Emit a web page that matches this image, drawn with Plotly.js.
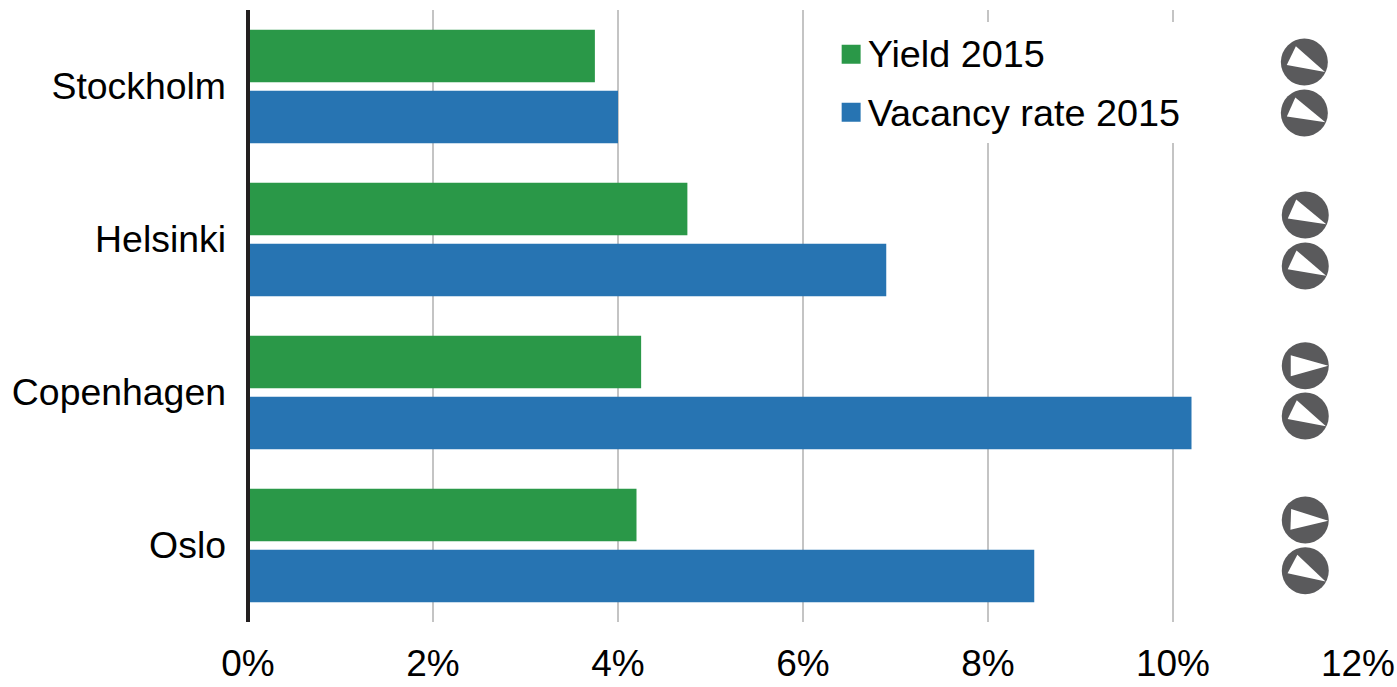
<!DOCTYPE html>
<html>
<head>
<meta charset="utf-8">
<script src="https://cdn.plot.ly/plotly-3.0.1.min.js"></script>
<style>html,body{margin:0;padding:0;background:#fff}#chart{width:1397px;height:687px}</style>
</head>
<body>
<div id="chart"></div>
<script>
const cities = ['Stockholm', 'Helsinki', 'Copenhagen', 'Oslo'];
const yield2015 = [3.75, 4.75, 4.25, 4.2];
const vacancy2015 = [4.0, 6.9, 10.2, 8.5];
const tickValues = [0, 2, 4, 6, 8, 10, 12];
const tickLabels = ['0%', '2%', '4%', '6%', '8%', '10%', '12%'];
// trend arrows: clockwise angle from pointing right
const yieldArrowAngle = [26, 24, 0, 2];
const vacancyArrowAngle = [24, 25, 26, 28];
const arrowX = [11.42, 11.43, 11.43, 11.43];
const yieldArrowRow = [-0.16, 0.84, 1.825, 2.833];
const vacancyArrowRow = [0.173, 1.173, 2.154, 3.165];

const FONT = 'Liberation Sans, Arial, sans-serif';
const GREEN = '#2a9848', BLUE = '#2774b2', GREY = '#5a5a5c';

function arrowShape(x, row, deg) {
  const a = deg * Math.PI / 180;
  const pts = [[-14.5, -10.4], [23, 0], [-14.5, 10.4]].map(([u, v]) => {
    const px = u * Math.cos(a) - v * Math.sin(a);
    const py = u * Math.sin(a) + v * Math.cos(a);
    return px.toFixed(2) + ',' + (-py).toFixed(2);
  });
  return {
    type: 'path', layer: 'above', xref: 'x', yref: 'y2',
    xsizemode: 'pixel', ysizemode: 'pixel', xanchor: x, yanchor: row,
    path: 'M' + pts.join('L') + 'Z', fillcolor: '#ffffff', line: {width: 0}
  };
}
const shapes = [{
  type: 'line', xref: 'paper', yref: 'paper', x0: 0, x1: 0, y0: 0, y1: 1,
  layer: 'above', line: {color: '#231f20', width: 4}
}];
cities.forEach((c, i) => {
  shapes.push(arrowShape(arrowX[i], yieldArrowRow[i], yieldArrowAngle[i]));
  shapes.push(arrowShape(arrowX[i], vacancyArrowRow[i], vacancyArrowAngle[i]));
});

const traces = [
  {type: 'bar', orientation: 'h', name: 'Yield 2015', legendgroup: 'a', y: cities, x: yield2015,
   marker: {color: GREEN}, hoverinfo: 'skip'},
  {type: 'bar', orientation: 'h', name: 'Vacancy rate 2015', legendgroup: 'b', y: cities, x: vacancy2015,
   marker: {color: BLUE}, hoverinfo: 'skip'},
  {type: 'scatter', mode: 'markers', yaxis: 'y2', showlegend: false, hoverinfo: 'skip',
   x: arrowX.concat(arrowX), y: yieldArrowRow.concat(vacancyArrowRow),
   marker: {symbol: 'circle', size: 47, color: GREY, line: {width: 0}}}
];

const layout = {
  width: 1397, height: 687,
  margin: {l: 248, r: 39, t: 10, b: 65, pad: 0},
  paper_bgcolor: '#fff', plot_bgcolor: '#fff',
  font: {family: FONT, size: 37, color: '#000'},
  barmode: 'group', bargap: 0.2026, bargroupgap: 0.139,
  xaxis: {range: [0, 12], tickvals: tickValues, ticktext: tickLabels, showgrid: true,
    gridcolor: '#c4c4c4', gridwidth: 2, zeroline: false, showline: false, ticks: '',
    ticklabelstandoff: 16, tickfont: {family: FONT, size: 37, color: '#000'}},
  yaxis: {type: 'category', categoryorder: 'array', categoryarray: cities, autorange: 'reversed',
    showgrid: false, zeroline: false, showline: false, ticks: '', ticklabelstandoff: 21, ticklabelshift: 1,
    tickfont: {family: FONT, size: 37.4, color: '#000'}},
  yaxis2: {overlaying: 'y', range: [3.5, -0.5], visible: false, fixedrange: true},
  legend: {x: 0.5222, xanchor: 'left', y: 0.981, yanchor: 'top', bgcolor: '#ffffff', borderwidth: 0,
    tracegroupgap: 6, traceorder: 'grouped', font: {family: FONT, size: 37.8, color: '#000'}},
  shapes: shapes
};

Plotly.newPlot('chart', traces, layout, {displayModeBar: false, staticPlot: true}).then(gd => {
  gd.querySelectorAll('.legend .legendpoints path').forEach(p => {
    const base = p.getAttribute('transform') || '';
    p.setAttribute('transform', base + ' translate(3.5,1.5) scale(1.58)');
  });
});
</script>
</body>
</html>
